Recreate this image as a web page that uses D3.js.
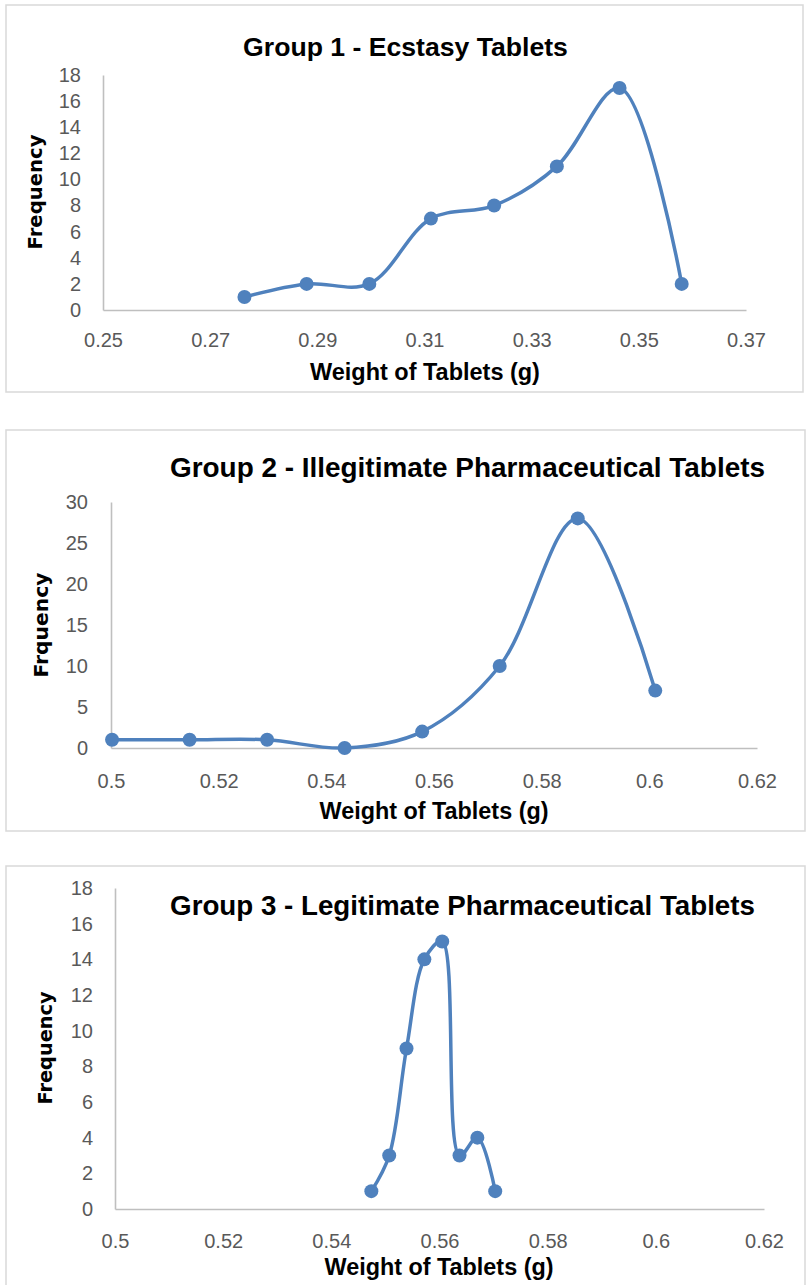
<!DOCTYPE html>
<html>
<head>
<meta charset="utf-8">
<script src="https://cdn.jsdelivr.net/npm/d3@7"></script>
<style>
  html, body { margin: 0; padding: 0; background: #ffffff; }
  svg { display: block; }
</style>
</head>
<body>
<svg id="chart" width="807" height="1285"></svg>
<script>
// ---------------- DATA ----------------
const g1Weights = [0.2764, 0.2880, 0.2997, 0.3112, 0.3230, 0.3347, 0.3464, 0.3580];
const g1Freq    = [1, 2, 2, 7, 8, 11, 17, 2];
const g1XTicks  = [0.25, 0.27, 0.29, 0.31, 0.33, 0.35, 0.37];
const g1YTicks  = [0, 2, 4, 6, 8, 10, 12, 14, 16, 18];

const g2Weights = [0.5002, 0.5146, 0.5290, 0.5434, 0.5578, 0.5722, 0.5867, 0.6011];
const g2Freq    = [1, 1, 1, 0, 2, 10, 28, 7];
const g2XTicks  = [0.5, 0.52, 0.54, 0.56, 0.58, 0.6, 0.62];
const g2YTicks  = [0, 5, 10, 15, 20, 25, 30];

const g3Weights = [0.5474, 0.5507, 0.5539, 0.5572, 0.5605, 0.5637, 0.5670, 0.5703];
const g3Freq    = [1, 3, 9, 14, 15, 3, 4, 1];
const g3XTicks  = [0.5, 0.52, 0.54, 0.56, 0.58, 0.6, 0.62];
const g3YTicks  = [0, 2, 4, 6, 8, 10, 12, 14, 16, 18];

const chartTitles = [
  "Group 1 - Ecstasy Tablets",
  "Group 2 - Illegitimate Pharmaceutical Tablets",
  "Group 3 - Legitimate Pharmaceutical Tablets"
];
const xAxisTitles = ["Weight of Tablets (g)", "Weight of Tablets (g)", "Weight of Tablets (g)"];
const yAxisTitles = ["Frequency", "Frquency", "Frequency"];

// ---------------- LAYOUT ----------------
const layout = [
  { box: {x: 6, y: 5, w: 797, h: 387}, plot: {l: 103, r: 746, t: 75, b: 310},
    title: {x: 405.5, y: 56, w: 325}, xt: {x: 425, y: 380, w: 230}, yt: {x: 35, y: 192, w: 115},
    yPad: 22, xPad: 23 },
  { box: {x: 6, y: 430, w: 799, h: 401}, plot: {l: 111, r: 757, t: 502, b: 748},
    title: {x: 467.5, y: 477, w: 595}, xt: {x: 434, y: 819, w: 229}, yt: {x: 41, y: 625, w: 105},
    yPad: 23, xPad: 26 },
  { box: {x: 6, y: 866, w: 799, h: 440}, plot: {l: 115, r: 764, t: 888, b: 1209},
    title: {x: 462.5, y: 915, w: 585}, xt: {x: 439, y: 1275, w: 229}, yt: {x: 45, y: 1048, w: 113},
    yPad: 22, xPad: 25 }
];

const groups = [
  {w: g1Weights, f: g1Freq, xt: g1XTicks, yt: g1YTicks},
  {w: g2Weights, f: g2Freq, xt: g2XTicks, yt: g2YTicks},
  {w: g3Weights, f: g3Freq, xt: g3XTicks, yt: g3YTicks}
];

const LINE = "#4F81BD";
const TICKFONT = "'Liberation Sans', Arial, sans-serif";

const svg = d3.select("#chart");

function fitWidth(sel, target) {
  const node = sel.node();
  const size = parseFloat(sel.attr("font-size"));
  const len = node.getComputedTextLength();
  if (len > 0) sel.attr("font-size", (size * target / len).toFixed(2));
}

groups.forEach((gd, i) => {
  const L = layout[i];
  const g = svg.append("g");

  g.append("rect")
    .attr("x", L.box.x).attr("y", L.box.y)
    .attr("width", L.box.w).attr("height", L.box.h)
    .attr("fill", "#fff").attr("stroke", "#D9D9D9").attr("stroke-width", 1.5);

  const x = d3.scaleLinear()
    .domain([gd.xt[0], gd.xt[gd.xt.length - 1]])
    .range([L.plot.l, L.plot.r]);
  const y = d3.scaleLinear()
    .domain([gd.yt[0], gd.yt[gd.yt.length - 1]])
    .range([L.plot.b, L.plot.t]);

  const xAxis = g.append("g")
    .attr("transform", `translate(0,${L.plot.b})`)
    .call(d3.axisBottom(x).tickValues(gd.xt).tickSize(0).tickSizeOuter(0)
      .tickPadding(L.xPad).tickFormat(d => String(d)));
  const yAxis = g.append("g")
    .attr("transform", `translate(${L.plot.l},0)`)
    .call(d3.axisLeft(y).tickValues(gd.yt).tickSize(0).tickSizeOuter(0)
      .tickPadding(L.yPad).tickFormat(d => String(d)));

  [xAxis, yAxis].forEach(a => {
    a.select(".domain").attr("stroke", "#BFBFBF").attr("stroke-width", 1.6);
    a.selectAll("text")
      .attr("fill", "#595959")
      .attr("font-family", TICKFONT)
      .attr("font-size", 20);
  });

  const t = g.append("text")
    .attr("x", L.title.x).attr("y", L.title.y)
    .attr("text-anchor", "middle")
    .attr("font-family", "'Liberation Sans', Arial, sans-serif")
    .attr("font-weight", "bold")
    .attr("font-size", 26)
    .attr("fill", "#000")
    .text(chartTitles[i]);
  fitWidth(t, L.title.w);

  const xt = g.append("text")
    .attr("x", L.xt.x).attr("y", L.xt.y)
    .attr("text-anchor", "middle")
    .attr("font-family", "'Liberation Sans', Arial, sans-serif")
    .attr("font-weight", "bold")
    .attr("font-size", 21)
    .attr("fill", "#000")
    .text(xAxisTitles[i]);
  fitWidth(xt, L.xt.w);

  const yt = g.append("text")
    .attr("transform", `translate(${L.yt.x},${L.yt.y}) rotate(-90)`)
    .attr("text-anchor", "middle")
    .attr("dominant-baseline", "central")
    .attr("font-family", "'DejaVu Sans', Verdana, sans-serif")
    .attr("font-weight", "bold")
    .attr("font-size", 20)
    .attr("fill", "#000")
    .text(yAxisTitles[i]);
  fitWidth(yt, L.yt.w);

  const pts = gd.w.map((w, k) => ({w, f: gd.f[k]}));

  const line = d3.line()
    .x(d => x(d.w)).y(d => y(d.f))
    .curve(d3.curveCatmullRom.alpha(0.5));

  g.append("path")
    .datum(pts)
    .attr("d", line)
    .attr("fill", "none")
    .attr("stroke", LINE)
    .attr("stroke-width", 3.5)
    .attr("stroke-linejoin", "round")
    .attr("stroke-linecap", "round");

  g.selectAll("circle.pt")
    .data(pts)
    .join("circle")
    .attr("class", "pt")
    .attr("cx", d => x(d.w))
    .attr("cy", d => y(d.f))
    .attr("r", 7)
    .attr("fill", LINE);
});
</script>
</body>
</html>
